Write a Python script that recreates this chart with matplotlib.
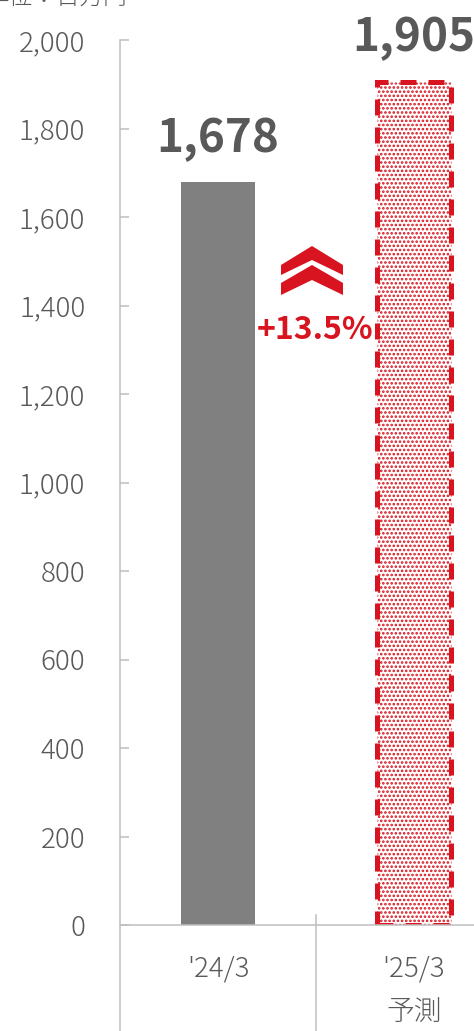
import matplotlib
matplotlib.use("Agg")
import matplotlib.pyplot as plt
from matplotlib.patches import Polygon

plt.rcParams['font.family'] = ['Noto Sans CJK JP', 'DejaVu Sans']
plt.rcParams['hatch.linewidth'] = 1.25

# 売上高（単位：百万円）
periods = ["'24/3", "'25/3\n予測"]
values = [1678, 1905]
growth_label = "+13.5%"
unit_label = "単位：百万円"
yticks = [0, 200, 400, 600, 800, 1000, 1200, 1400, 1600, 1800, 2000]

GRAY = "#808080"
TEXT = "#595959"
AXIS = "#BFBFBF"
RED = "#D7141F"

W, H = 474, 1031
fig = plt.figure(figsize=(W / 100, H / 100), dpi=100)
ax = fig.add_axes([120 / W, (H - 925) / H, 392 / W, 885 / H])

x = list(range(len(periods)))
bar_w = 0.375

ax.bar(x[0], values[0], width=bar_w, color=GRAY, zorder=2)
ax.bar(x[1], values[1], width=bar_w, facecolor="white", edgecolor=RED,
       hatch="....", linewidth=3.6, linestyle=(0, (3.2, 2.4)), zorder=2)

ax.set_xlim(-0.5, 1.5)
ax.set_ylim(0, 2000)
ax.set_yticks(yticks)
ax.set_yticklabels([f"{v:,}" for v in yticks])
ax.set_xticks(x)
ax.set_xticklabels(periods)

for s in ["top", "right", "left"]:
    ax.spines[s].set_visible(False)
ax.spines["bottom"].set_color(AXIS)
ax.spines["bottom"].set_linewidth(1.1)

ax.tick_params(axis="y", direction="in", length=6.5, width=1.1, color=AXIS,
               labelcolor=TEXT, labelsize=20, pad=25)
ax.tick_params(axis="x", direction="in", length=5, width=1.1, color=AXIS,
               labelcolor=TEXT, labelsize=20, pad=21)
for lab in ax.get_yticklabels() + ax.get_xticklabels():
    lab.set_fontweight("light")
    lab.set_linespacing(1.7)

# 軸線と区切り線（図の下端まで延ばす）
ax.plot([-0.5, -0.5], [-0.13, 1.0], transform=ax.get_xaxis_transform(),
        color=AXIS, lw=1.1, clip_on=False, zorder=3)
ax.plot([0.5, 0.5], [-0.13, 0.0113], transform=ax.get_xaxis_transform(),
        color=AXIS, lw=1.1, clip_on=False, zorder=3)

# 数値ラベル
for xi, v in zip(x, values):
    ax.annotate(f"{v:,}", xy=(xi, v), xytext=(0, 22), textcoords="offset points",
                ha="center", va="baseline", fontsize=33, fontweight="bold",
                color=TEXT, annotation_clip=False)

# 増加を示す二重の山形矢印（図のピクセル座標で作図）
def chevron(top, cx=312, half=31, drop=19, thick=14, edge=10):
    pts = [(cx, top), (cx + half, top + drop), (cx + half, top + drop + edge),
           (cx, top + thick), (cx - half, top + drop + edge), (cx - half, top + drop)]
    return Polygon([(px / W, 1 - py / H) for px, py in pts], closed=True,
                   transform=fig.transFigure, facecolor=RED, edgecolor="none")

fig.patches.append(chevron(246))
fig.patches.append(chevron(265, drop=18, thick=15, edge=12))

fig.text(315 / W, 1 - 330 / H, growth_label, ha="center", va="center",
         fontsize=23, fontweight="bold", color=RED)

fig.text(-14 / W, 1 - 5 / H, unit_label, ha="left", va="baseline",
         fontsize=17, color=TEXT, fontweight="light")

fig.savefig("out.png", dpi=100)
